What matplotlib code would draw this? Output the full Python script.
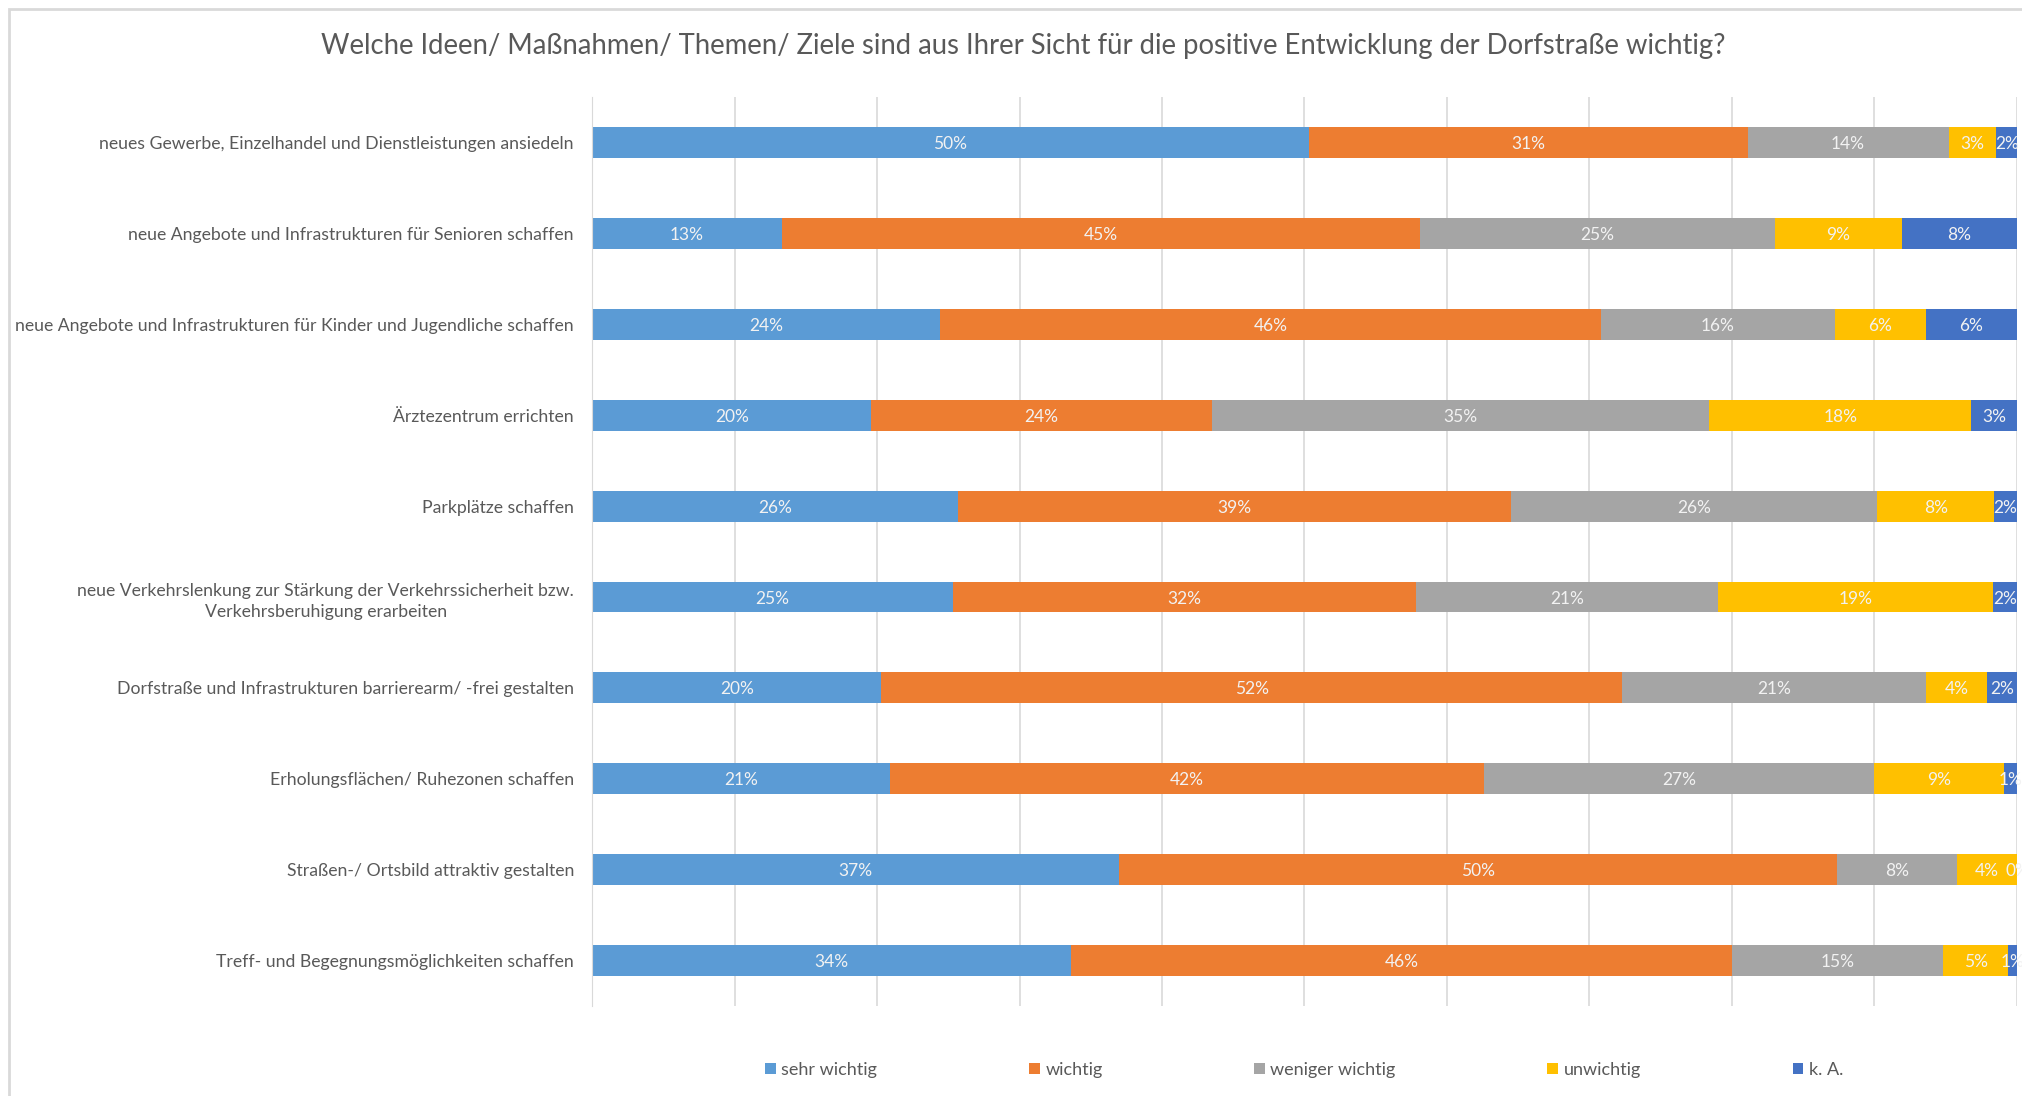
import matplotlib.pyplot as plt
from matplotlib.patches import Rectangle

plt.rcParams['font.family'] = ['Lato', 'DejaVu Sans']

# Kategorien (von oben nach unten)
categories = [
    'neues Gewerbe, Einzelhandel und Dienstleistungen ansiedeln',
    'neue Angebote und Infrastrukturen für Senioren schaffen',
    'neue Angebote und Infrastrukturen für Kinder und Jugendliche schaffen',
    'Ärztezentrum errichten',
    'Parkplätze schaffen',
    'neue Verkehrslenkung zur Stärkung der Verkehrssicherheit bzw.\nVerkehrsberuhigung erarbeiten',
    'Dorfstraße und Infrastrukturen barrierearm/ -frei gestalten',
    'Erholungsflächen/ Ruhezonen schaffen',
    'Straßen-/ Ortsbild attraktiv gestalten',
    'Treff- und Begegnungsmöglichkeiten schaffen',
]

series_names = ['sehr wichtig', 'wichtig', 'weniger wichtig', 'unwichtig', 'k. A.']
series_colors = ['#5B9BD5', '#ED7D31', '#A5A5A5', '#FFC000', '#4472C4']

# Anteile in % (aus dem Bild geschätzt)
sehr_wichtig = [50.3, 13.3, 24.4, 19.6, 25.7, 25.3, 20.3, 20.9, 37.0, 33.6]
wichtig = [30.8, 44.8, 46.4, 23.9, 38.8, 32.5, 52.0, 41.7, 50.4, 46.4]
weniger_wichtig = [14.1, 24.9, 16.4, 34.9, 25.7, 21.2, 21.3, 27.4, 8.4, 14.8]
unwichtig = [3.3, 8.9, 6.4, 18.4, 8.2, 19.3, 4.3, 9.1, 4.2, 4.6]
keine_angabe = [1.6, 8.1, 6.4, 3.2, 1.6, 1.7, 2.1, 0.9, 0.0, 0.6]

series = [sehr_wichtig, wichtig, weniger_wichtig, unwichtig, keine_angabe]

fig = plt.figure(figsize=(20.22, 10.96), dpi=100)
ax = fig.add_axes([0.2928, 0.082, 0.7047, 0.8295])

# äußerer Rahmen
fig.patches.append(Rectangle((9 / 2022, -0.1), 1.2, 1.1 - 9 / 1096, transform=fig.transFigure,
                             fill=False, edgecolor='#d9d9d9', linewidth=2))

y = list(range(len(categories)))
left = [0.0] * len(categories)
for name, vals, color in zip(series_names, series, series_colors):
    ax.barh(y, vals, left=left, height=0.34, color=color, label=name, zorder=2)
    for i, (l, v) in enumerate(zip(left, vals)):
        ax.text(l + v / 2, i, '%d%%' % round(v), ha='center', va='center_baseline',
                color='#f2f2f2', fontsize=12.5, zorder=3)
    left = [l + v for l, v in zip(left, vals)]

ax.set_xlim(0, 100)
ax.set_ylim(9.5, -0.5)
ax.set_xticks(range(0, 101, 10))
ax.tick_params(axis='x', length=0, labelbottom=False)
ax.xaxis.grid(True, color='#d9d9d9', linewidth=1.2, zorder=0)
ax.set_axisbelow(True)
ax.set_yticks(y)
ax.set_yticklabels(categories, fontsize=12.7, color='#595959',
                   multialignment='center', linespacing=1.45)
ax.tick_params(axis='y', length=0, pad=13)
for s in ['top', 'right', 'bottom']:
    ax.spines[s].set_visible(False)
ax.spines['left'].set_color('#d9d9d9')

fig.text(0.506, 0.958, 'Welche Ideen/ Maßnahmen/ Themen/ Ziele sind aus Ihrer Sicht für die positive Entwicklung der Dorfstraße wichtig?',
         ha='center', va='center', fontsize=19.8, color='#595959')

handles, labels = ax.get_legend_handles_labels()
fig.legend(handles, labels, loc='center', bbox_to_anchor=(0.645, 0.024), ncol=5,
           frameon=False, fontsize=13, handlelength=0.6, handleheight=0.6,
           handletextpad=0.3, columnspacing=8.4, labelcolor='#595959')

fig.savefig('out.png', dpi=100)
